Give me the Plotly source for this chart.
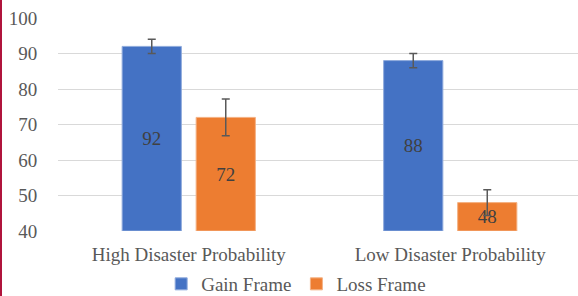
import plotly.graph_objects as go

categories = ["High Disaster Probability", "Low Disaster Probability"]
gain_values = [92, 88]
loss_values = [72, 48]
gain_err = [2, 2]
loss_err = [5.2, 3.6]
y_ticks = [40, 50, 60, 70, 80, 90, 100]
axis_min = 40

FONT = "Liberation Serif, Times New Roman, serif"
TXT = "#595959"
FS = 19

fig = go.Figure()
fig.add_trace(go.Bar(
    name="Gain Frame", x=categories, y=[v - axis_min for v in gain_values], base=axis_min,
    marker=dict(color="#4472C4", line=dict(color="#8FAADC", width=1)),
    error_y=dict(type="data", array=gain_err, color="#595959", thickness=1.5, width=4),
    text=[str(v) for v in gain_values], textposition="inside", insidetextanchor="middle",
    textfont=dict(family=FONT, size=FS, color="#404040"), constraintext="none",
))
fig.add_trace(go.Bar(
    name="Loss Frame", x=categories, y=[v - axis_min for v in loss_values], base=axis_min,
    marker=dict(color="#ED7D31", line=dict(color="#F4B183", width=1)),
    error_y=dict(type="data", array=loss_err, color="#595959", thickness=1.5, width=4),
    text=[str(v) for v in loss_values], textposition="inside", insidetextanchor="middle",
    textfont=dict(family=FONT, size=FS, color="#404040"), constraintext="none",
))

fig.update_layout(
    width=578, height=296,
    margin=dict(l=58, r=0, t=18, b=65, autoexpand=False),
    paper_bgcolor="white", plot_bgcolor="white",
    barmode="group", bargap=0.434, bargroupgap=0.2,
    font=dict(family=FONT, size=FS, color=TXT),
    showlegend=True,
    legend=dict(orientation="h", x=0.458, xanchor="center", y=-(284 - 231) / 213, yanchor="middle",
                bgcolor="rgba(0,0,0,0)", borderwidth=0,
                font=dict(family=FONT, size=FS, color=TXT),
                itemwidth=30, traceorder="normal"),
    xaxis=dict(range=[-0.5, 1.4885], showgrid=False, showline=False, zeroline=False,
               ticks="outside", ticklen=6, tickcolor="rgba(0,0,0,0)",
               tickfont=dict(family=FONT, size=FS, color=TXT)),
    yaxis=dict(range=[40, 100], tickvals=y_ticks, showgrid=True, gridcolor="#D9D9D9",
               gridwidth=1, zeroline=False, showline=False,
               ticks="outside", ticklen=16, tickcolor="rgba(0,0,0,0)",
               tickfont=dict(family=FONT, size=FS, color=TXT)),
    shapes=[dict(type="line", xref="paper", yref="paper", x0=-57/520, x1=-57/520,
                 y0=-65/213, y1=1+18/213, line=dict(color="#B0143C", width=2))],
)

fig.write_html("out.html", config={"displayModeBar": False},
               post_script="document.body.style.margin='0';document.body.style.overflow='hidden';")
